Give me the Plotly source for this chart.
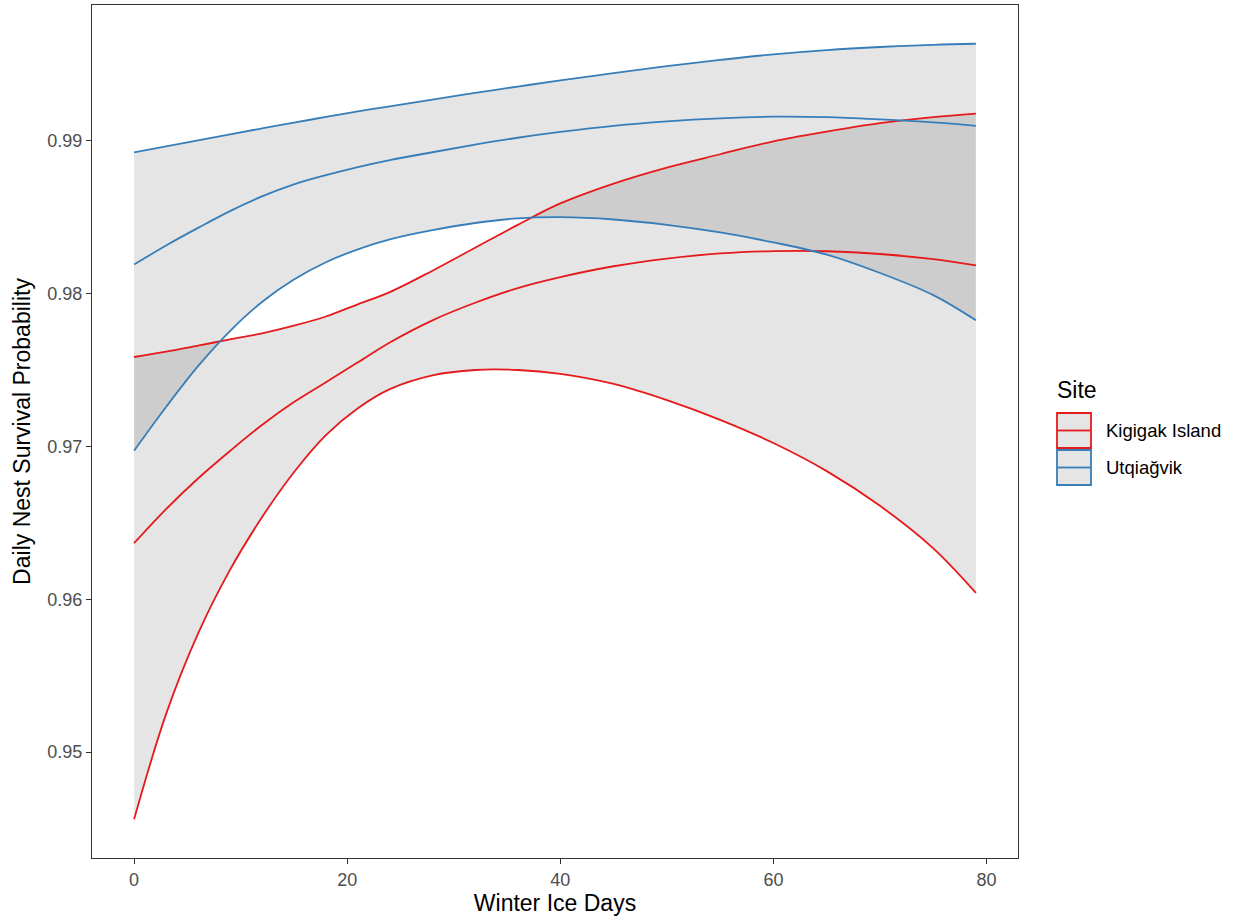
import plotly.graph_objects as go

# ---------------- data ----------------
ice_days = [0, 3, 6, 9, 12, 15, 18, 21, 24, 28, 32, 36, 40, 45, 50, 55, 60, 65, 70, 75, 79]

kigigak_lower = [0.94560, 0.95248, 0.95775, 0.96192, 0.96536, 0.96831, 0.97074, 0.97250, 0.97375, 0.97465,
                 0.97500, 0.97500, 0.97475, 0.97409, 0.97303, 0.97174, 0.97022, 0.96838, 0.96611, 0.96333, 0.96041]
kigigak_mean = [0.96367, 0.96590, 0.96790, 0.96970, 0.97140, 0.97290, 0.97420, 0.97550, 0.97680, 0.97825,
                0.97940, 0.98036, 0.98108, 0.98179, 0.98229, 0.98263, 0.98278, 0.98277, 0.98259, 0.98225, 0.98184]
kigigak_upper = [0.97585, 0.97620, 0.97660, 0.97700, 0.97740, 0.97790, 0.97850, 0.97930, 0.98010, 0.98150,
                 0.98300, 0.98450, 0.98590, 0.98720, 0.98825, 0.98912, 0.98997, 0.99060, 0.99115, 0.99155, 0.99178]

utqiagvik_lower = [0.96972, 0.97258, 0.97525, 0.97755, 0.97945, 0.98092, 0.98205, 0.98290, 0.98355, 0.98415,
                   0.98462, 0.98492, 0.98500, 0.98485, 0.98450, 0.98400, 0.98335, 0.98255, 0.98135, 0.97990, 0.97825]
utqiagvik_mean = [0.98190, 0.98315, 0.98430, 0.98540, 0.98636, 0.98715, 0.98775, 0.98828, 0.98874, 0.98925,
                  0.98975, 0.99020, 0.99058, 0.99098, 0.99127, 0.99147, 0.99158, 0.99155, 0.99140, 0.99120, 0.99098]
utqiagvik_upper = [0.98924, 0.98963, 0.99003, 0.99042, 0.99081, 0.99119, 0.99156, 0.99192, 0.99226, 0.99270,
                   0.99313, 0.99355, 0.99395, 0.99443, 0.99488, 0.99529, 0.99566, 0.99594, 0.99614, 0.99628, 0.99635]

sites = ["Kigigak Island", "Utqiağvik"]
x_ticks = [0, 20, 40, 60, 80]
y_ticks = [0.95, 0.96, 0.97, 0.98, 0.99]
y_tick_labels = ["0.95", "0.96", "0.97", "0.98", "0.99"]

# ---------------- styling ----------------
RED = "#E41A1C"
BLUE = "#377EB8"
RIBBON = "rgba(0,0,0,0.1)"
FONT = "Liberation Sans, Arial, sans-serif"
W, H = 1238, 922
ML, MR, MT, MB = 92, 220, 5, 64

series = [
    (sites[0], RED, kigigak_lower, kigigak_mean, kigigak_upper),
    (sites[1], BLUE, utqiagvik_lower, utqiagvik_mean, utqiagvik_upper),
]

fig = go.Figure()
SHAPE = "spline"
SMOOTH = 1.0

# ribbons first
for name, col, lo, mid, hi in series:
    fig.add_trace(go.Scatter(x=ice_days, y=lo, mode="lines",
                             line=dict(width=0, shape=SHAPE, smoothing=SMOOTH),
                             showlegend=False, hoverinfo="skip"))
    fig.add_trace(go.Scatter(x=ice_days, y=hi, mode="lines", fill="tonexty", fillcolor=RIBBON,
                             line=dict(width=0, shape=SHAPE, smoothing=SMOOTH),
                             showlegend=False, hoverinfo="skip"))

# lines on top
for name, col, lo, mid, hi in series:
    for arr in (lo, mid, hi):
        fig.add_trace(go.Scatter(x=ice_days, y=arr, mode="lines", name=name,
                                 line=dict(color=col, width=1.8, shape=SHAPE, smoothing=SMOOTH),
                                 showlegend=False))

# axis ranges like ggplot (5% expansion)
xmin, xmax = min(ice_days), max(ice_days)
allv = kigigak_lower + kigigak_mean + kigigak_upper + utqiagvik_lower + utqiagvik_mean + utqiagvik_upper
ymin, ymax = min(allv), max(allv)
xr = [xmin - 0.05 * (xmax - xmin), xmax + 0.05 * (xmax - xmin)]
yr = [ymin - 0.05 * (ymax - ymin), ymax + 0.05 * (ymax - ymin)]

axis_common = dict(showgrid=False, zeroline=False, showline=True, mirror=True,
                   linecolor="#333333", linewidth=1, ticks="outside", ticklen=5,
                   tickcolor="#333333", tickwidth=1,
                   tickfont=dict(family=FONT, size=18, color="#4D4D4D"))

fig.update_xaxes(range=xr, tickvals=x_ticks, ticktext=[str(v) for v in x_ticks],
                 title=dict(text="Winter Ice Days", font=dict(family=FONT, size=23, color="#000000"), standoff=6),
                 **axis_common)
fig.update_yaxes(range=yr, tickvals=y_ticks, ticktext=y_tick_labels,
                 title=dict(text="Daily Nest Survival Probability", font=dict(family=FONT, size=23, color="#000000"), standoff=10),
                 **axis_common)

# ---------------- ggplot-style legend (shapes + text) ----------------
pw = W - ML - MR
ph = H - MT - MB

def px2x(px):
    return (px - ML) / pw

def py2y(py):
    return 1 - (py - MT) / ph

shapes = []
annotations = [dict(text="Site", x=px2x(1055), y=py2y(390), xref="paper", yref="paper",
                    xanchor="left", yanchor="middle", showarrow=False,
                    font=dict(family=FONT, size=23, color="#000000"))]
key_tops = [413, 450]
for (name, col, lo, mid, hi), top in zip(series, key_tops):
    x0, x1, y0, y1 = 1057, 1091, top, top + 35
    shapes.append(dict(type="rect", xref="paper", yref="paper",
                       x0=px2x(x0), x1=px2x(x1), y0=py2y(y1), y1=py2y(y0),
                       fillcolor=RIBBON, line=dict(color=col, width=1.8)))
    shapes.append(dict(type="line", xref="paper", yref="paper",
                       x0=px2x(x0 + 1), x1=px2x(x1 - 1), y0=py2y((y0 + y1) / 2), y1=py2y((y0 + y1) / 2),
                       line=dict(color=col, width=1.8)))
    annotations.append(dict(text=name, x=px2x(1104), y=py2y((y0 + y1) / 2), xref="paper", yref="paper",
                            xanchor="left", yanchor="middle", showarrow=False,
                            font=dict(family=FONT, size=18.5, color="#000000")))

fig.update_layout(width=W, height=H, margin=dict(l=ML, r=MR, t=MT, b=MB),
                  plot_bgcolor="white", paper_bgcolor="white", showlegend=False,
                  shapes=shapes, annotations=annotations,
                  font=dict(family=FONT))

fig.write_html("out.html", config={"displayModeBar": False},
               post_script="document.body.style.margin='0';")
